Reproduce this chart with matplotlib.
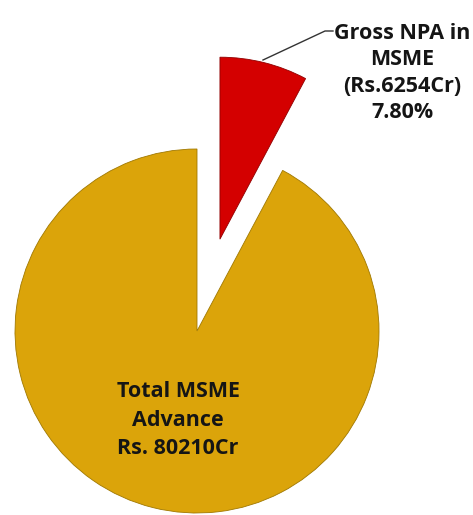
import matplotlib
matplotlib.use('Agg')
import matplotlib.pyplot as plt

# values (Rs. crore)
labels = ['Gross NPA in\nMSME\n(Rs.6254Cr)\n7.80%', 'Total MSME\nAdvance\nRs. 80210Cr']
npa = 6254
total_advance = 80210
sizes = [npa, total_advance - npa]
colors = ['#D40000', '#DBA40A']

W, H = 473, 515
fig = plt.figure(figsize=(W / 100, H / 100), dpi=100)
ax = fig.add_axes([0, 0, 1, 1])

R = 182
cx, cy = 197, H - 331
explode = [0.52 * R, 0.0]  # pie offsets are in data units here

wedges, _ = ax.pie(sizes, colors=colors, explode=explode, startangle=90,
                   counterclock=False, radius=R, center=(cx, cy),
                   wedgeprops=dict(edgecolor='#a07800', linewidth=0.6),
                   frame=True)
wedges[0].set_edgecolor('#900000')
ax.set_xlim(0, W)
ax.set_ylim(0, H)
ax.set_aspect('equal')
ax.axis('off')

font = ['Open Sans', 'DejaVu Sans']

# label for the NPA slice with leader line
ax.plot([263, 325, 333], [H - 60, H - 31, H - 31], color='#333333', lw=1)
ax.text(402, H - 73, labels[0], ha='center', va='center', fontsize=15.5,
        fontweight='bold', family=font, linespacing=1.33, color='#151515')

# label inside the gold slice
ax.text(178, H - 420, labels[1], ha='center', va='center', fontsize=15.5,
        fontweight='bold', family=font, linespacing=1.45, color='#151515')

fig.savefig('out.png', dpi=100)
